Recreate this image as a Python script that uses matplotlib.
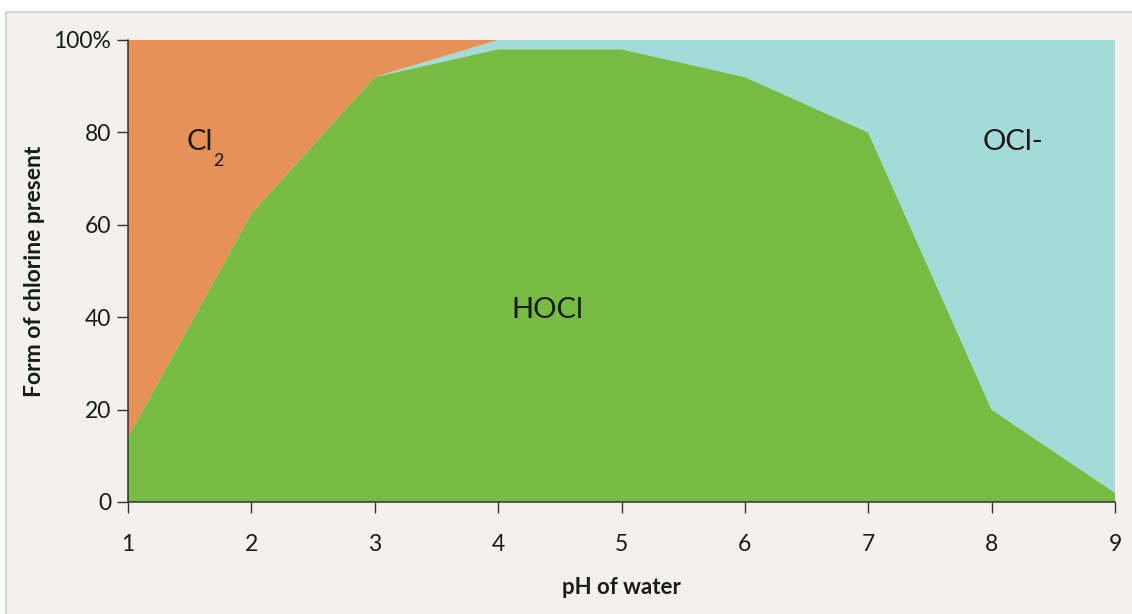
import matplotlib.pyplot as plt
from matplotlib.patches import Rectangle

# pH of water and share (%) of each chlorine form
ph = [1, 2, 3, 4, 5, 6, 7, 8, 9]
hocl = [14, 62.5, 92, 98, 98, 92, 80, 20, 2]
ocl = [0, 0, 0, 2, 2, 8, 20, 80, 98]
cl2 = [86, 37.5, 8, 0, 0, 0, 0, 0, 0]

y_ticks = [0, 20, 40, 60, 80, 100]
y_tick_labels = ["0", "20", "40", "60", "80", "100%"]

plt.rcParams['font.family'] = ['Lato', 'DejaVu Sans']

bg = '#f2f1ed'
ink = '#1a1a1a'

fig = plt.figure(figsize=(11.32, 6.14), dpi=100, facecolor='white')
# panel box behind the chart
fig.patches.append(Rectangle((6 / 1132, -0.05), 1.1, 1 - 12 / 614 + 0.05,
                             transform=fig.transFigure, facecolor=bg,
                             edgecolor='#cfcfcf', linewidth=1.2, zorder=-10))

ax = fig.add_axes([128 / 1132, 1 - 502 / 614, (1115 - 128) / 1132, (502 - 40) / 614])
ax.set_facecolor(bg)
ax.stackplot(ph, hocl, ocl, cl2, colors=['#76bb43', '#a2dbd8', '#e69155'],
             linewidth=0)

ax.set_xlim(1, 9)
ax.set_ylim(0, 100)
ax.set_xticks(ph)
ax.set_yticks(y_ticks)
ax.set_yticklabels(y_tick_labels)

for s in ['top', 'right']:
    ax.spines[s].set_visible(False)
for s in ['left', 'bottom']:
    ax.spines[s].set_color('#333333')
    ax.spines[s].set_linewidth(1.1)

ax.tick_params(axis='both', direction='out', length=8, width=1,
               color='#333333', labelsize=16.5, labelcolor=ink)
ax.tick_params(axis='x', pad=15)
ax.tick_params(axis='y', pad=4)

ax.set_xlabel('pH of water', fontsize=16, fontweight='bold', color=ink)
ax.set_ylabel('Form of chlorine present', fontsize=16.5, fontweight='bold', color=ink)
ax.xaxis.set_label_coords(0.5, -(587 - 502) / 462)
ax.yaxis.set_label_coords(-(128 - 35) / 987, 0.5)
ax.xaxis.label.set_va('center')
ax.yaxis.label.set_va('center')

# Cl with a hand-placed subscript 2
ax.text(1.58, 78, 'Cl', fontsize=21, ha='center', va='center', color=ink)
ax.annotate('2', xy=(1.58, 78), xytext=(10, -14), textcoords='offset points',
            fontsize=13, ha='left', va='center', color=ink)
ax.text(4.4, 41.5, 'HOCl', fontsize=21, ha='center', va='center', color=ink)
ax.text(8.17, 78, 'OCl-', fontsize=21, ha='center', va='center', color=ink)

fig.savefig('out.png', dpi=100, facecolor='white')
